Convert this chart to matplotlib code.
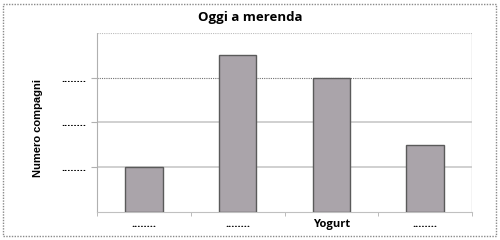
import matplotlib.pyplot as plt
from matplotlib.patches import Rectangle

categorie = ['........', '........', 'Yogurt', '........']
compagni = [1, 3.5, 3, 1.5]
livelli = [1, 2, 3]
etichette_y = ['........', '........', '........']

fig = plt.figure(figsize=(5, 2.4), dpi=100)
fig.patches.append(Rectangle((0.006, 0.015), 0.986, 0.97, transform=fig.transFigure,
                             fill=False, edgecolor='#8a8a8a', linewidth=1.0,
                             linestyle=(0, (1, 1))))

ax = fig.add_axes([0.194, 0.1167, 0.75, 0.7458])
x = range(len(categorie))
ax.bar(x, compagni, width=0.4, color='#aaa4aa', edgecolor='#5a5a5a', linewidth=1.0, zorder=3)

ax.set_xlim(-0.5, 3.5)
ax.set_ylim(0, 4)
ax.set_yticks(livelli)
ax.set_yticklabels(etichette_y, fontweight='bold', fontsize=8, family='Liberation Sans')
ax.set_xticks(list(x))
ax.set_xticklabels(categorie, fontweight='bold', fontsize=8, family='Open Sans')
ax.set_xticks([-0.5, 0.5, 1.5, 2.5, 3.5], minor=True)
ax.tick_params(axis='x', which='major', length=0, pad=5)
ax.tick_params(axis='x', which='minor', length=3, color='#b0b0b0', direction='out')
ax.tick_params(axis='y', length=4, color='#b0b0b0', pad=4)

ax.axhline(3, color='#707070', linewidth=0.8, linestyle=(0, (1, 1)), zorder=1)
for v in [1, 2]:
    ax.axhline(v, color='#c8c8c8', linewidth=1.2, zorder=1)
ax.axhline(4, color='#bcbcbc', linewidth=0.8, linestyle=(0, (1, 1)), zorder=1)

for s in ['top', 'right']:
    ax.spines[s].set_visible(False)
ax.spines['left'].set_color('#b0b0b0')
ax.spines['left'].set_linestyle((0, (1, 1)))
ax.spines['bottom'].set_color('#c0c0c0')
ax.plot([3.5, 3.5], [0, 4], color='#c8c8c8', linewidth=1.0, zorder=1)

fig.text(0.076, 0.467, 'Numero compagni', rotation=90, ha='center', va='center',
         fontweight='bold', fontsize=8, family='Liberation Sans')
fig.text(0.5, 0.925, 'Oggi a merenda', ha='center', va='center',
         fontweight='bold', fontsize=9.5, family='Open Sans')

fig.savefig('out.png', dpi=100)
